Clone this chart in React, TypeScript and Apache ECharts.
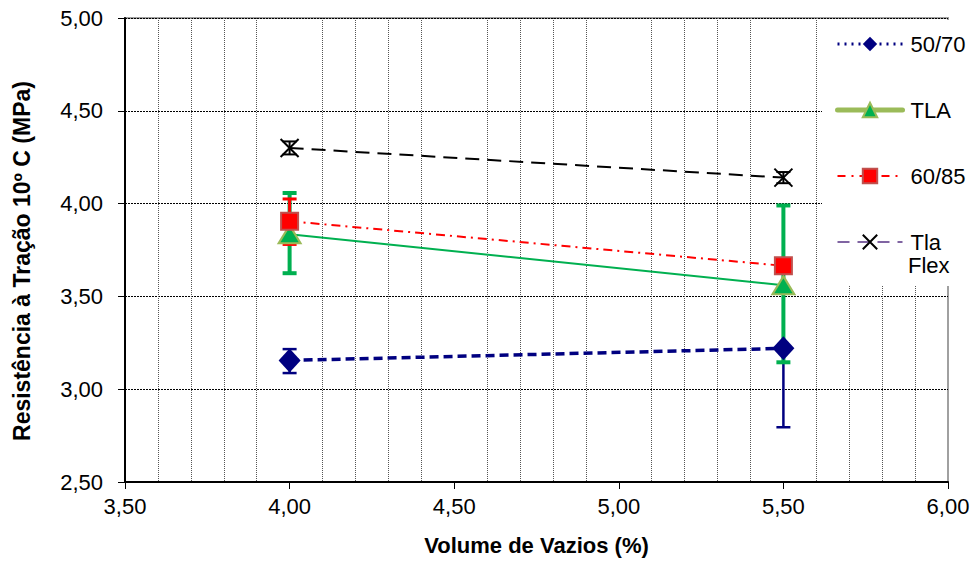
import React, { useEffect, useRef } from "react";
import * as echarts from "echarts";

const xValues = [4.0, 5.5];
const s5070 = [3.155, 3.22];
const sTLA = [3.835, 3.56];
const s6085 = [3.905, 3.665];
const sTlaFlex = [4.30, 4.14];

const err5070: [number, number][] = [[3.087, 3.216], [2.795, 3.65]];
const errTLA: [number, number][] = [[3.625, 4.057], [3.145, 3.99]];
const err6085: [number, number][] = [[3.78, 4.025], [3.645, 3.685]];
const errTlaFlex: [number, number][] = [[4.265, 4.335], [4.11, 4.17]];

const names = ["50/70", "TLA", "60/85", "Tla Flex"];
const xTicks = ["3,50", "4,00", "4,50", "5,00", "5,50", "6,00"];

const FONT = "Liberation Sans, Arial, sans-serif";

function pts(vals: number[]) {
  return xValues.map((x, i) => [x, vals[i]]);
}
function errData(e: [number, number][]) {
  return xValues.map((x, i) => [x, e[i][0], e[i][1]]);
}
function errSeries(name: string, e: [number, number][], color: string, width: number, z: number) {
  return {
    type: "custom",
    name,
    z,
    data: errData(e),
    encode: { x: 0, y: [1, 2] },
    renderItem: (params: any, api: any) => {
      const x = api.value(0);
      const lo = api.coord([x, api.value(1)]);
      const hi = api.coord([x, api.value(2)]);
      const cap = 7;
      const style = { stroke: color, lineWidth: width };
      return {
        type: "group",
        children: [
          { type: "line", shape: { x1: lo[0], y1: lo[1], x2: hi[0], y2: hi[1] }, style },
          { type: "line", shape: { x1: lo[0] - cap, y1: lo[1], x2: lo[0] + cap, y2: lo[1] }, style },
          { type: "line", shape: { x1: hi[0] - cap, y1: hi[1], x2: hi[0] + cap, y2: hi[1] }, style },
        ],
      };
    },
  };
}

export default function App() {
  const ref = useRef<HTMLDivElement>(null);
  useEffect(() => {
    const chart = echarts.init(ref.current!, null, { renderer: "svg" });
    const labelStyle = { fontFamily: FONT, fontSize: 22, color: "#000" };
    chart.setOption({
      animation: false,
      backgroundColor: "#fff",
      grid: {
        left: 125,
        right: 30,
        top: 18,
        bottom: 83,
        show: true,
        borderColor: "#a0a0a0",
        borderWidth: 2,
      },
      xAxis: {
        type: "value",
        min: 3.5,
        max: 6.0,
        interval: 0.5,
        name: "Volume de Vazios (%)",
        nameLocation: "middle",
        nameGap: 52,
        nameTextStyle: { fontFamily: FONT, fontSize: 22, fontWeight: "bold", color: "#000" },
        axisLine: { show: true, lineStyle: { color: "#000", width: 2 } },
        axisTick: { show: true, length: 7, lineStyle: { color: "#000", width: 1 } },
        axisLabel: {
          ...labelStyle,
          margin: 13,
          formatter: (v: number) => xTicks[Math.round((v - 3.5) / 0.5)] ?? "",
        },
        splitLine: { show: false },
        minorTick: { show: false, splitNumber: 5 },
        minorSplitLine: { show: true, lineStyle: { color: "#555", type: [1, 1], width: 1 } },
      },
      yAxis: {
        type: "value",
        min: 2.5,
        max: 5.0,
        interval: 0.5,
        name: "Resistência à Tração 10º C (MPa)",
        nameLocation: "middle",
        nameGap: 92,
        nameTextStyle: {
          fontFamily: FONT,
          fontSize: 23,
          fontWeight: "bold",
          color: "#000",
          padding: [0, 22, 0, 0],
        },
        axisLine: { show: true, lineStyle: { color: "#000", width: 2 } },
        axisTick: { show: true, length: 7, lineStyle: { color: "#000", width: 1 } },
        axisLabel: {
          ...labelStyle,
          margin: 22,
          formatter: (v: number) => v.toFixed(2).replace(".", ","),
        },
        splitLine: { show: true, lineStyle: { color: "#000", type: [2, 1], width: 1 } },
      },
      legend: {
        orient: "vertical",
        left: 822,
        top: 20,
        backgroundColor: "#fff",
        padding: [12, 10, 32, 13],
        itemWidth: 65,
        itemHeight: 18,
        itemGap: 42,
        textStyle: { fontFamily: FONT, fontSize: 22, lineHeight: 24, color: "#000", padding: [0, 0, 0, 3] },
        formatter: (n: string) => (n === "Tla Flex" ? "Tla" : n),
        data: [
          { name: "50/70", lineStyle: { color: "#000080", width: 3, type: [2, 5] } },
          { name: "TLA", lineStyle: { color: "#9bbb59", width: 5, type: "solid", cap: "round" } },
          { name: "60/85", lineStyle: { color: "#ff0000", width: 2, type: [8, 6, 2, 6] } },
          { name: "Tla Flex", lineStyle: { color: "#8064a2", width: 2, type: [12, 8] } },
        ],
      },
      graphic: [
        {
          type: "text",
          left: 908,
          top: 254,
          z: 100,
          style: { text: "Flex", fontFamily: FONT, fontSize: 22, fill: "#000" },
        },
      ],
      series: [
        errSeries("e5070", err5070, "#000080", 2.5, 3),
        errSeries("eTLA", errTLA, "#00b050", 4, 4),
        errSeries("e6085", err6085, "#ff0000", 3, 5),
        errSeries("eTlaFlex", errTlaFlex, "#000", 2, 6),
        {
          type: "line",
          name: names[0],
          z: 7,
          data: pts(s5070),
          symbol: "diamond",
          symbolSize: [22, 24],
          itemStyle: { color: "#000080" },
          lineStyle: { color: "#000080", width: 3.5, type: [9, 5] },
        },
        {
          type: "line",
          name: names[1],
          z: 8,
          data: pts(sTLA),
          symbol: "triangle",
          symbolSize: [22, 18],
          itemStyle: { color: "#00b050", borderColor: "#9bbb59", borderWidth: 2 },
          lineStyle: { color: "#00b050", width: 2, type: "solid" },
        },
        {
          type: "line",
          name: names[2],
          z: 9,
          data: pts(s6085),
          symbol: "rect",
          symbolSize: 17,
          itemStyle: { color: "#ff0000", borderColor: "#c0504d", borderWidth: 2 },
          lineStyle: { color: "#ff0000", width: 2, type: [9, 5, 2, 5] },
        },
        {
          type: "line",
          name: names[3],
          z: 10,
          data: pts(sTlaFlex),
          symbol: "path://M0,0L10,10M10,0L0,10",
          symbolSize: 18,
          itemStyle: { color: "none", borderColor: "#000", borderWidth: 2 },
          lineStyle: { color: "#000", width: 2, type: [14, 8] },
        },
      ],
    });
    return () => chart.dispose();
  }, []);
  return (
    <div
      ref={ref}
      style={{ position: "fixed", left: 0, top: 0, width: 978, height: 565 }}
    />
  );
}
